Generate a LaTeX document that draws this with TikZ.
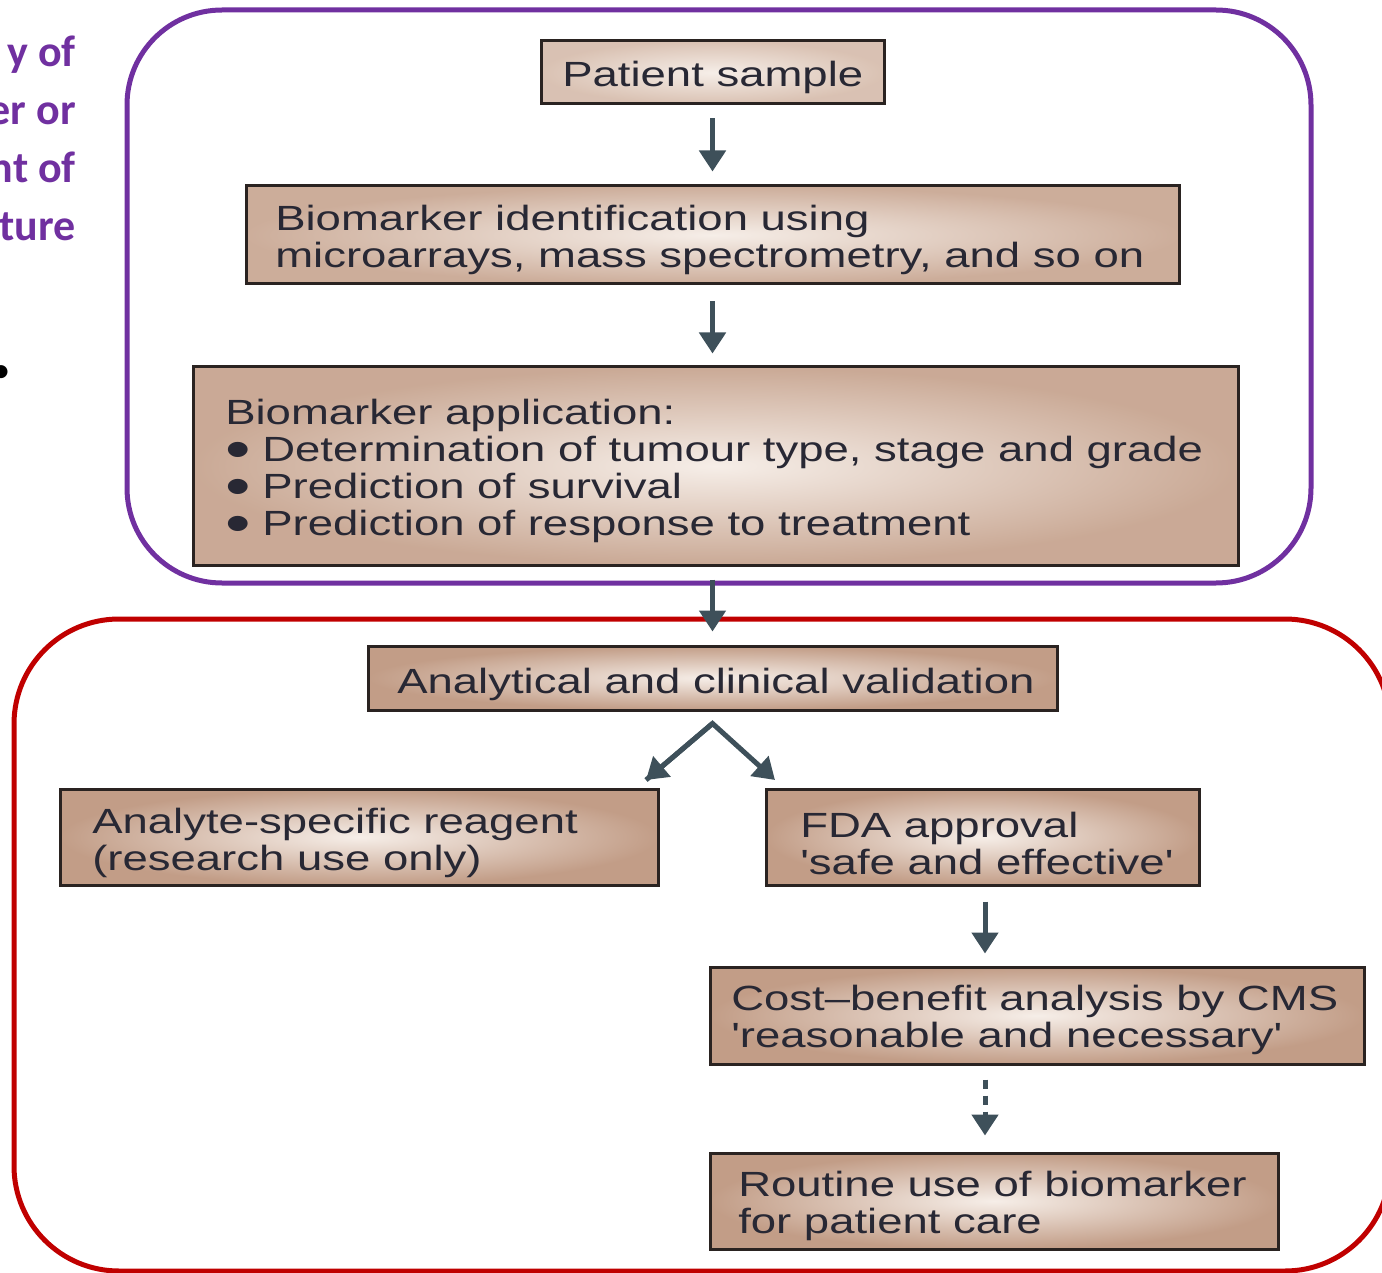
\documentclass[tikz,border=0pt]{standalone}
\usepackage{fontspec}
\setmainfont{Liberation Sans}[Ligatures=TeXOff]
\newfontfamily\slidefont{Carlito}
\usetikzlibrary{arrows.meta}
\definecolor{purp}{RGB}{112,48,160}
\definecolor{redl}{RGB}{192,0,0}
\definecolor{boxline}{RGB}{42,35,33}
\definecolor{boxin}{RGB}{246,238,232}
\definecolor{boxout}{RGB}{194,157,135}
\definecolor{txtc}{RGB}{40,40,52}
\definecolor{arrc}{RGB}{62,80,90}
\newcommand\bul{\makebox[28.5pt][l]{\smash{\raisebox{-7pt}{\scalebox{1.6}{\textbullet}}}}}
\tikzset{
  box/.style={draw=boxline, line width=3pt, inner color=boxin, outer color=boxout, inner sep=0pt},
  txt/.style={anchor=west, inner sep=0pt, align=left, text=txtc,
    font=\fontsize{35}{37}\selectfont, xscale=1.3, transform shape},
  arr/.style={draw=arrc, line width=5pt, -{Triangle[length=21pt,width=26pt]}},
  dotarr/.style={arr, dash pattern=on 9pt off 7pt},
  slide/.style={anchor=base east, inner sep=0pt, text=purp, font=\slidefont\bfseries\fontsize{44}{50}\selectfont},
}
\begin{document}
\begin{tikzpicture}[x=1pt,y=-1pt]
\useasboundingbox (0,0) rectangle (1382,1273);
% left slide fragments
\node[slide] (s1) at (76,67) {y of};
\node[slide] (s2) at (76,125) {er or};
\node[slide] (s3) at (76,183) {nt of};
\node[slide] (s4) at (76,241) {ture};
\node[anchor=base, inner sep=0pt, text=black, font=\slidefont\fontsize{37}{44}\selectfont] (s5) at (1,382) {•};
% group frames
\draw[purp, line width=5pt, rounded corners=95pt] (127,10) rectangle (1311,583);
\draw[redl, line width=5pt, rounded corners=105pt] (14,619) rectangle (1390,1271);
% boxes
\node[box, minimum width=343pt, minimum height=63pt, outer color=boxout!55!boxin] (ps) at (712.5,72.5) {};
\node[txt] (pst) at (562,77) {Patient sample};
\node[box, minimum width=933pt, minimum height=98pt, outer color=boxout!80!boxin] (bi) at (712.5,235) {};
\node[txt] (bit) at (275,240) {Biomarker identification using\\microarrays, mass spectrometry, and so on};
\node[box, minimum width=1045pt, minimum height=198pt, outer color=boxout!85!boxin] (ba) at (715.5,466) {};
\node[txt] (bat) at (225,471) {Biomarker application:\\\bul Determination of tumour type, stage and grade\\\bul Prediction of survival\\\bul Prediction of response to treatment};
\node[box, minimum width=689pt, minimum height=64pt] (ana) at (712.5,678) {};
\node[txt] (anat) at (397,684) {Analytical and clinical validation};
\node[box, minimum width=598pt, minimum height=96pt] (asr) at (359,837) {};
\node[txt] (asrt) at (92,843) {Analyte-specific reagent\\(research use only)};
\node[box, minimum width=433pt, minimum height=96pt] (fda) at (982.5,837) {};
\node[txt] (fdat) at (800,843) {FDA approval\\'safe and effective'};
\node[box, minimum width=654pt, minimum height=97pt] (cba) at (1037,1015.5) {};
\node[txt] (cbat) at (731,1020) {Cost–benefit analysis by CMS\\'reasonable and necessary'};
\node[box, minimum width=568pt, minimum height=96pt] (rt) at (994,1201) {};
\node[txt] (rtt) at (738,1206) {Routine use of biomarker\\for patient care};
% connectors
\draw[arr, shorten <=13pt, shorten >=13pt] (ps.south) -- (ps.south |- bi.north);
\draw[arr, shorten <=16pt, shorten >=12pt] (bi.south) -- (bi.south |- ba.north);
\draw[arr, shorten <=13pt, shorten >=13pt] (ana.north |- ba.south) -- (ana.north);
\coordinate (apex) at ([yshift=-12pt]ana.south);
\coordinate (tipL) at (646,780);
\coordinate (tipR) at (775,780);
\draw[arr, line join=miter] (tipL) -- (apex) -- (tipR);
\draw[arr] (apex) -- (tipL);
\draw[arr, shorten <=15pt, shorten >=12pt] ([xshift=2.5pt]fda.south) -- ([xshift=2.5pt]fda.south |- cba.north);
\draw[dotarr, shorten <=14pt, shorten >=16pt] ([xshift=2.5pt]fda.south |- cba.south) -- ([xshift=2.5pt]fda.south |- rt.north);
\end{tikzpicture}
\end{document}
